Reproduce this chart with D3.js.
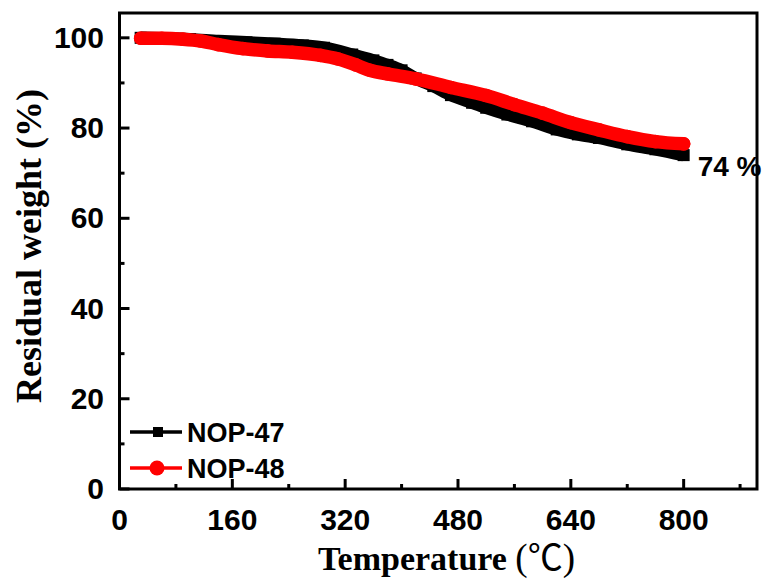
<!DOCTYPE html>
<html>
<head>
<meta charset="utf-8">
<script src="https://cdn.jsdelivr.net/npm/d3@7/dist/d3.min.js"></script>
<style>
  html, body { margin: 0; padding: 0; background: #fff; }
  svg { display: block; }
</style>
</head>
<body>
<svg id="chart" width="763" height="582"></svg>
<script>
// TGA curves: residual weight versus temperature
const tempNOP47 = [30, 60, 100, 140, 180, 220, 260, 290, 330, 360, 380, 400, 420, 445, 470, 500, 520, 550, 585, 620, 650, 680, 720, 760, 800];
const weightNOP47 = [100.0, 99.9, 99.7, 99.3, 99.0, 98.7, 98.3, 97.8, 96.3, 95.0, 94.0, 92.8, 91.0, 89.3, 87.3, 85.6, 84.5, 83.0, 81.5, 79.7, 78.6, 77.8, 76.4, 75.3, 74.0];

const tempNOP48 = [30, 60, 90, 115, 140, 175, 210, 245, 285, 310, 335, 355, 380, 420, 470, 520, 560, 600, 640, 680, 720, 760, 800];
const weightNOP48 = [99.9, 99.9, 99.7, 99.3, 98.5, 97.6, 97.1, 96.8, 96.1, 95.3, 94.0, 92.8, 92.0, 90.9, 89.0, 87.2, 85.2, 83.3, 81.2, 79.6, 78.1, 77.0, 76.5];

const xMajorTicks = [0, 160, 320, 480, 640, 800];
const xMinorTicks = [80, 240, 400, 560, 720, 880];
const yMajorTicks = [0, 20, 40, 60, 80, 100];
const yMinorTicks = [10, 30, 50, 70, 90];

const seriesNames = ["NOP-47", "NOP-48"];
const seriesColors = ["#000000", "#ff0000"];
const residueLabel = "74 %";

const svg = d3.select("#chart");
const plot = { left: 119.5, right: 757, top: 13, bottom: 489 };

const x = d3.scaleLinear().domain([0, 904]).range([plot.left, plot.right]);
const y = d3.scaleLinear().domain([0, 105.5]).range([plot.bottom, plot.top]);

const sans = "'Liberation Sans', Arial, sans-serif";
const serif = "'Liberation Serif', 'Times New Roman', serif";

// series
const seriesData = [
  d3.zip(tempNOP47, weightNOP47),
  d3.zip(tempNOP48, weightNOP48)
];
const line = d3.line().x(d => x(d[0])).y(d => y(d[1])).curve(d3.curveMonotoneX);

const gSeries = svg.append("g");
// NOP-47: dense square markers
gSeries.append("path").datum(seriesData[0])
  .attr("d", line).attr("fill", "none")
  .attr("stroke", seriesColors[0]).attr("stroke-width", 12.5)
  .attr("stroke-linecap", "butt");
gSeries.append("g").selectAll("rect").data(seriesData[0]).join("rect")
  .attr("x", d => x(d[0]) - 6).attr("y", d => y(d[1]) - 6)
  .attr("width", 12).attr("height", 12).attr("fill", seriesColors[0]);

// NOP-48: dense circle markers
gSeries.append("path").datum(seriesData[1])
  .attr("d", line).attr("fill", "none")
  .attr("stroke", seriesColors[1]).attr("stroke-width", 13.5)
  .attr("stroke-linecap", "round");
gSeries.append("g").selectAll("circle").data(seriesData[1]).join("circle")
  .attr("cx", d => x(d[0])).attr("cy", d => y(d[1]))
  .attr("r", 6.8).attr("fill", seriesColors[1]);

// residue label next to the end of NOP-47
const lastIdx = tempNOP47.length - 1;
svg.append("text")
  .attr("x", x(tempNOP47[lastIdx]) + 14)
  .attr("y", y(weightNOP47[lastIdx]) + 21)
  .attr("font-family", sans).attr("font-weight", "bold").attr("font-size", 28)
  .attr("fill", "#000").text(residueLabel);

// frame
const gAxes = svg.append("g").attr("stroke", "#000").attr("stroke-width", 3).attr("fill", "none");
gAxes.append("rect")
  .attr("x", plot.left).attr("y", plot.top)
  .attr("width", plot.right - plot.left).attr("height", plot.bottom - plot.top);

// ticks pointing inward
gAxes.selectAll(".xmaj").data(xMajorTicks).join("line")
  .attr("x1", d => x(d)).attr("x2", d => x(d))
  .attr("y1", plot.bottom).attr("y2", plot.bottom - 10);
gAxes.selectAll(".xmin").data(xMinorTicks).join("line")
  .attr("class", "xmin")
  .attr("x1", d => x(d)).attr("x2", d => x(d))
  .attr("y1", plot.bottom).attr("y2", plot.bottom - 5);
gAxes.selectAll(".ymaj").data(yMajorTicks).join("line")
  .attr("class", "ymaj")
  .attr("x1", plot.left).attr("x2", plot.left + 10)
  .attr("y1", d => y(d)).attr("y2", d => y(d));
gAxes.selectAll(".ymin").data(yMinorTicks).join("line")
  .attr("class", "ymin")
  .attr("x1", plot.left).attr("x2", plot.left + 5)
  .attr("y1", d => y(d)).attr("y2", d => y(d));

// tick labels
svg.append("g").selectAll("text").data(xMajorTicks).join("text")
  .attr("x", d => x(d)).attr("y", 530)
  .attr("text-anchor", "middle")
  .attr("font-family", sans).attr("font-weight", "bold").attr("font-size", 30)
  .text(d => d);
svg.append("g").selectAll("text").data(yMajorTicks).join("text")
  .attr("x", 104).attr("y", d => y(d) + 10)
  .attr("text-anchor", "end")
  .attr("font-family", sans).attr("font-weight", "bold").attr("font-size", 30)
  .text(d => d);

// axis titles
const xt = svg.append("text")
  .attr("x", 318).attr("y", 570)
  .attr("font-family", serif).attr("font-weight", "bold").attr("font-size", 34);
xt.append("tspan").text("Temperature ");
xt.append("tspan").attr("font-weight", "normal").attr("font-size", 37).text("(");
xt.append("tspan").attr("font-weight", "normal")
  .attr("font-family", "'Noto Sans CJK SC', 'DejaVu Sans', sans-serif")
  .attr("font-size", 35).text("℃");
xt.append("tspan").attr("font-weight", "normal").attr("font-size", 37).text(")");

svg.append("text")
  .attr("transform", "translate(41,403) rotate(-90)")
  .attr("font-family", serif).attr("font-weight", "bold").attr("font-size", 36)
  .text("Residual weight (%)");

// legend
const legend = svg.append("g");
const legendRows = [432, 468];
seriesNames.forEach((name, i) => {
  const ly = legendRows[i];
  legend.append("line")
    .attr("x1", 130).attr("x2", 182).attr("y1", ly).attr("y2", ly)
    .attr("stroke", seriesColors[i]).attr("stroke-width", 3.5);
  if (i === 0) {
    legend.append("rect").attr("x", 153).attr("y", ly - 5)
      .attr("width", 10).attr("height", 10).attr("fill", seriesColors[i]);
  } else {
    legend.append("circle").attr("cx", 157).attr("cy", ly).attr("r", 7.5)
      .attr("fill", seriesColors[i]);
  }
  legend.append("text")
    .attr("x", 187).attr("y", ly + 9.5)
    .attr("font-family", sans).attr("font-weight", "bold").attr("font-size", 27)
    .attr("fill", "#000").text(name);
});
</script>
</body>
</html>
